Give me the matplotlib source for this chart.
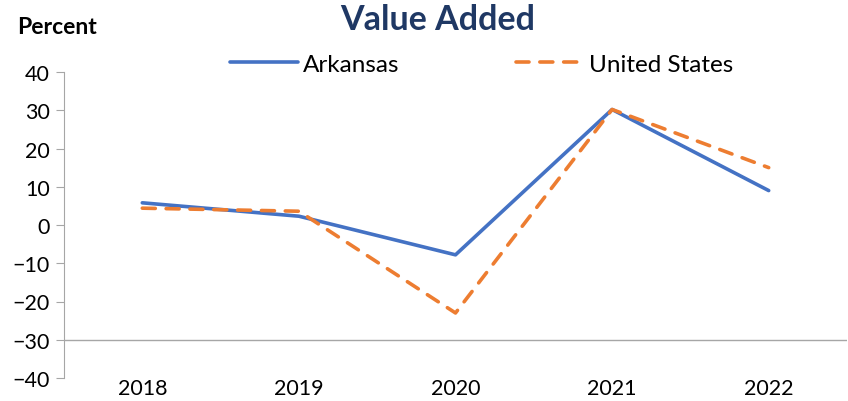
import matplotlib.pyplot as plt

# data
years = ["2018", "2019", "2020", "2021", "2022"]
arkansas = [5.8, 2.3, -7.8, 30.2, 9.0]
united_states = [4.4, 3.6, -23.0, 30.2, 15.0]
y_ticks = [-40, -30, -20, -10, 0, 10, 20, 30, 40]

plt.rcParams['font.family'] = ['Lato', 'DejaVu Sans']

fig = plt.figure(figsize=(8.48, 4.02), dpi=100)
ax = fig.add_axes([64 / 848, 23 / 402, 783 / 848, 306 / 402])

x = list(range(len(years)))
ax.plot(x, arkansas, color='#4472C4', lw=2.6, solid_capstyle='round', label='Arkansas')
ax.plot(x, united_states, color='#ED7D31', lw=2.6, linestyle=(0, (3.6, 3)),
        dash_capstyle='round', label='United States')

ax.set_xlim(-0.5, len(years) - 0.5)
ax.set_ylim(-40, 40)
ax.set_yticks(y_ticks)
ax.set_xticks(x)
ax.set_xticklabels(years)

# category axis crosses at -30
ax.axhline(-30, color='#A6A6A6', lw=1, zorder=0)

for side in ['top', 'right', 'bottom']:
    ax.spines[side].set_visible(False)
ax.spines['left'].set_color('#A6A6A6')
ax.tick_params(axis='y', length=6, color='#A6A6A6', labelsize=15.5, pad=4)
ax.tick_params(axis='x', length=0, labelsize=15.5, pad=0)

fig.text(438 / 848, 1 - 20 / 402, 'Value Added', ha='center', va='center', fontsize=24.5,
         fontweight='bold', color='#1F3864')
fig.text(17 / 848, 1 - 27 / 402, 'Percent', ha='left', va='center', fontsize=16.5,
         fontweight='bold', color='black')

fig.legend(loc='center', bbox_to_anchor=(482 / 848, 1 - 65 / 402), ncol=2,
           frameon=False, fontsize=17.5, handlelength=2.8, handletextpad=0.2,
           columnspacing=4.8, borderpad=0)

fig.savefig('out.png', dpi=100)
